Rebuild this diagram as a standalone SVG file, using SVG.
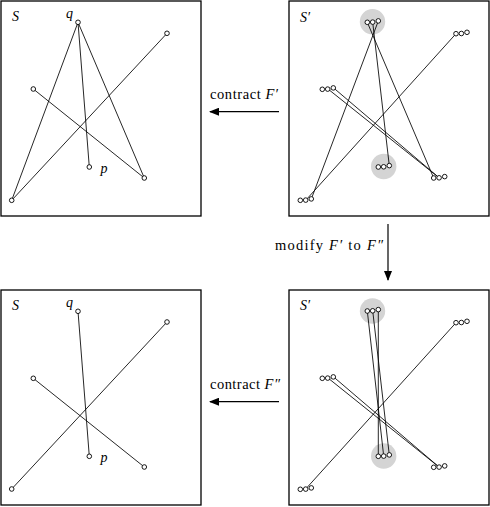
<svg xmlns="http://www.w3.org/2000/svg" width="490" height="507" viewBox="0 0 490 507">
<style>
.box{fill:#fff;stroke:#000;stroke-width:1.3}
.seg{stroke:#000;stroke-width:0.85;fill:none}
.pt{fill:#fff;stroke:#000;stroke-width:0.9}
.hl{fill:#d4d4d4;stroke:none}
.lbl{font-family:"Liberation Serif",serif;font-style:italic;font-size:14px;fill:#000}
.txt{font-family:"Liberation Serif",serif;font-size:14.5px;fill:#000}
.arr{stroke:#000;stroke-width:1.2;fill:none}
</style>
<defs>
<marker id="ah" viewBox="0 0 10 8" refX="9" refY="4" markerWidth="10" markerHeight="8" markerUnits="userSpaceOnUse" orient="auto">
<path d="M0,0 L10,4 L0,8 Z" fill="#000"/>
</marker>
<g id="tri"><circle class="pt" cx="0" cy="0" r="2.3"/><circle class="pt" cx="5.4" cy="-0.2" r="2.3"/><circle class="pt" cx="11" cy="-1.4" r="2.3"/></g>
</defs>

<g id="box-S-top"><rect class="box" x="1" y="1" width="200" height="215"/></g>
<g id="box-Sp-top"><rect class="box" x="289" y="1" width="200" height="215"/></g>
<g id="box-S-bot"><rect class="box" x="1" y="290" width="200" height="215"/></g>
<g id="box-Sp-bot"><rect class="box" x="289" y="290" width="200" height="215"/></g>

<g id="highlights">
<circle class="hl" cx="372.5" cy="21.7" r="12.7"/>
<circle class="hl" cx="383.7" cy="166.5" r="12.7"/>
<circle class="hl" cx="372.5" cy="311" r="12.7"/>
<circle class="hl" cx="383.7" cy="456" r="12.7"/>
</g>

<g id="connectors">
<line class="seg" x1="78" y1="22.3" x2="11.7" y2="200.3"/>
<line class="seg" x1="78" y1="22.3" x2="89.3" y2="167"/>
<line class="seg" x1="78" y1="22.3" x2="144.3" y2="178"/>
<line class="seg" x1="33.3" y1="89" x2="144.3" y2="178"/>
<line class="seg" x1="11.7" y1="200.3" x2="167" y2="33.3"/>
<line class="seg" x1="378.3" y1="21" x2="311.3" y2="199"/>
<line class="seg" x1="372.7" y1="22.3" x2="389.3" y2="165.7"/>
<line class="seg" x1="367.3" y1="22.3" x2="433.7" y2="178"/>
<line class="seg" x1="328" y1="89" x2="439" y2="177.7"/>
<line class="seg" x1="333.7" y1="88" x2="439" y2="177.7"/>
<line class="seg" x1="305.7" y1="200.3" x2="456" y2="33.7"/>
<line class="seg" x1="78" y1="311.3" x2="89.3" y2="456.3"/>
<line class="seg" x1="33.3" y1="378.3" x2="144.3" y2="467"/>
<line class="seg" x1="11.7" y1="489" x2="167" y2="322"/>
<line class="seg" x1="378.3" y1="310" x2="378.3" y2="456.3"/>
<line class="seg" x1="367.3" y1="311" x2="383.7" y2="456"/>
<line class="seg" x1="372.7" y1="310.7" x2="389.3" y2="455"/>
<line class="seg" x1="328" y1="378" x2="439" y2="467"/>
<line class="seg" x1="333.7" y1="377" x2="439" y2="467"/>
<line class="seg" x1="305.7" y1="489" x2="456" y2="322.7"/>
<line class="arr" x1="279" y1="111.7" x2="210" y2="111.7" marker-end="url(#ah)"/>
<line class="arr" x1="279" y1="401.7" x2="210" y2="401.7" marker-end="url(#ah)"/>
<line class="arr" x1="388" y1="224" x2="388" y2="280" marker-end="url(#ah)"/>
</g>

<g id="S-top-points">
<circle class="pt" cx="78" cy="22.3" r="2.3"/>
<circle class="pt" cx="167" cy="33.3" r="2.3"/>
<circle class="pt" cx="33.3" cy="89" r="2.3"/>
<circle class="pt" cx="89.3" cy="167" r="2.3"/>
<circle class="pt" cx="144.3" cy="178" r="2.3"/>
<circle class="pt" cx="11.7" cy="200.3" r="2.3"/>
</g>
<g id="Sp-top-points">
<use href="#tri" x="367.3" y="22.3"/>
<use href="#tri" x="456" y="33.7"/>
<use href="#tri" x="322.3" y="89.3"/>
<use href="#tri" x="378.3" y="167"/>
<use href="#tri" x="433.7" y="178"/>
<use href="#tri" x="300.3" y="200.3"/>
</g>
<g id="S-bot-points">
<circle class="pt" cx="78" cy="311.3" r="2.3"/>
<circle class="pt" cx="167" cy="322" r="2.3"/>
<circle class="pt" cx="33.3" cy="378.3" r="2.3"/>
<circle class="pt" cx="89.3" cy="456.3" r="2.3"/>
<circle class="pt" cx="144.3" cy="467" r="2.3"/>
<circle class="pt" cx="11.7" cy="489" r="2.3"/>
</g>
<g id="Sp-bot-points">
<use href="#tri" x="367.3" y="311"/>
<use href="#tri" x="456" y="322.7"/>
<use href="#tri" x="322.3" y="378.3"/>
<use href="#tri" x="378.3" y="456.3"/>
<use href="#tri" x="433.7" y="467.3"/>
<use href="#tri" x="300.3" y="489.3"/>
</g>

<g id="labels">
<text class="lbl" x="12" y="21">S</text>
<text class="lbl" x="66" y="17.5">q</text>
<text class="lbl" x="100.5" y="172.5">p</text>
<text class="lbl" x="300" y="21.5">S′</text>
<text class="lbl" x="12" y="310">S</text>
<text class="lbl" x="66" y="306.5">q</text>
<text class="lbl" x="100.5" y="461.5">p</text>
<text class="lbl" x="300" y="310">S′</text>
</g>
<g id="arrow-labels">
<text class="txt" x="210" y="99" textLength="68">contract <tspan font-style="italic">F′</tspan></text>
<text class="txt" x="210" y="389" textLength="70">contract <tspan font-style="italic">F″</tspan></text>
<text class="txt" x="275" y="250" textLength="108">modify <tspan font-style="italic">F′</tspan> to <tspan font-style="italic">F″</tspan></text>
</g>
</svg>
